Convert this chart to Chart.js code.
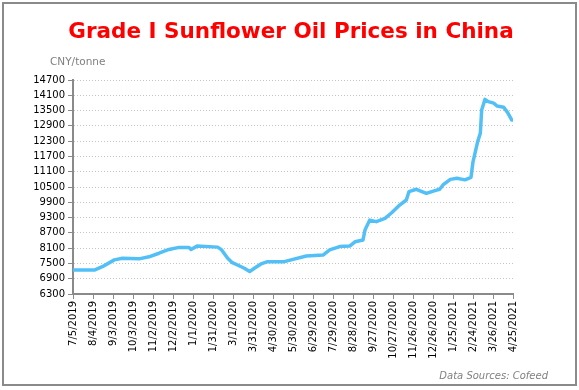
<!DOCTYPE html>
<html>
<head>
<meta charset="utf-8">
<script src="https://cdn.jsdelivr.net/npm/chart.js@4/dist/chart.umd.min.js"></script>
<style>
  html, body { margin: 0; padding: 0; background: #fff; }
  #wrap { position: relative; width: 579px; height: 390px; }
</style>
</head>
<body>
<div id="wrap"><canvas id="oilChart" width="579" height="390"></canvas></div>
<script>
// Grade I sunflower oil, CNY/tonne
const dates = [
  '2019-07-05', '2019-08-06', '2019-08-18', '2019-09-05', '2019-09-17', '2019-10-12',
  '2019-10-27', '2019-11-11', '2019-11-26', '2019-12-11', '2019-12-26', '2019-12-29',
  '2020-01-07', '2020-02-07', '2020-02-13', '2020-02-22', '2020-02-29', '2020-03-11',
  '2020-03-18', '2020-03-26', '2020-04-02', '2020-04-12', '2020-04-22', '2020-05-17',
  '2020-05-30', '2020-06-19', '2020-07-14', '2020-07-24', '2020-08-08', '2020-08-23',
  '2020-08-31', '2020-09-12', '2020-09-15', '2020-09-22', '2020-10-02', '2020-10-15',
  '2020-10-25', '2020-11-06', '2020-11-16', '2020-11-20', '2020-12-01', '2020-12-16',
  '2020-12-29', '2021-01-05', '2021-01-10', '2021-01-21', '2021-01-31', '2021-02-12',
  '2021-02-21', '2021-02-24', '2021-03-03', '2021-03-07', '2021-03-09', '2021-03-14',
  '2021-03-19', '2021-03-27', '2021-04-01', '2021-04-11', '2021-04-17', '2021-04-23',
  '2021-04-25'
];
const prices = [
  7240, 7240, 7370, 7640, 7700, 7680,
  7760, 7900, 8050, 8130, 8130, 8050,
  8180, 8140, 8030, 7700, 7530, 7400,
  7310, 7180, 7310, 7480, 7570, 7570,
  7660, 7790, 7830, 8030, 8160, 8180,
  8350, 8420, 8810, 9200, 9140, 9270,
  9490, 9790, 9990, 10320, 10410, 10250,
  10360, 10410, 10580, 10800, 10840, 10780,
  10880, 11490, 12280, 12610, 13520, 13940,
  13850, 13790, 13680, 13630, 13420, 13130,
  13130
];

// axis settings
const startDate = '2019-07-05';
const tickStepDays = 30;
const lastTickDay = 660;
const yMin = 6300;
const yMax = 14700;
const yStep = 600;

const DAY = 86400000;
const t0 = Date.parse(startDate);
const points = dates.map((d, i) => ({ x: (Date.parse(d) - t0) / DAY, y: prices[i] }));

function dayLabel(v) {
  const d = new Date(t0 + v * DAY);
  return (d.getUTCMonth() + 1) + '/' + d.getUTCDate() + '/' + d.getUTCFullYear();
}

const tickFont = { family: "'DejaVu Sans', Verdana, sans-serif", size: 10 };

// white background, frame and the loose texts
const decor = {
  id: 'decor',
  beforeDraw(chart) {
    const ctx = chart.ctx;
    ctx.save();
    ctx.fillStyle = '#fff';
    ctx.fillRect(0, 0, chart.width, chart.height);
    ctx.restore();
  },
  afterDraw(chart) {
    const ctx = chart.ctx;
    ctx.save();
    ctx.strokeStyle = '#8a8a8a';
    ctx.lineWidth = 2;
    ctx.strokeRect(3, 3, 573, 382);

    ctx.fillStyle = '#ff0000';
    ctx.font = "bold 21.5px 'DejaVu Sans', sans-serif";
    ctx.textAlign = 'center';
    ctx.textBaseline = 'alphabetic';
    ctx.fillText('Grade I Sunflower Oil Prices in China', 291, 38);

    ctx.fillStyle = '#808080';
    ctx.font = "10.5px 'DejaVu Sans', sans-serif";
    ctx.textAlign = 'left';
    ctx.textBaseline = 'middle';
    ctx.fillText('CNY/tonne', 50, 62);

    ctx.font = "italic 10px 'DejaVu Sans', sans-serif";
    ctx.textAlign = 'right';
    ctx.fillText('Data Sources: Cofeed', 548, 376);
    ctx.restore();
  }
};

new Chart(document.getElementById('oilChart').getContext('2d'), {
  type: 'line',
  data: {
    datasets: [{
      label: 'Grade I Sunflower Oil',
      data: points,
      borderColor: '#52c0f7',
      borderWidth: 3.5,
      borderJoinStyle: 'round',
      borderCapStyle: 'round',
      pointRadius: 0,
      tension: 0,
      fill: false
    }]
  },
  options: {
    responsive: false,
    animation: false,
    layout: { padding: { top: 80, left: 0, right: 66, bottom: 26 } },
    plugins: {
      legend: { display: false },
      title: { display: false },
      tooltip: { enabled: false }
    },
    scales: {
      x: {
        type: 'linear',
        min: 0,
        max: lastTickDay,
        afterFit: (scale) => { scale.height = 70; },
        ticks: {
          stepSize: tickStepDays,
          autoSkip: false,
          maxRotation: 90,
          minRotation: 90,
          padding: 2,
          color: '#000',
          font: tickFont,
          callback: (v) => dayLabel(v)
        },
        grid: {
          drawOnChartArea: false,
          drawTicks: true,
          tickLength: 5,
          tickColor: '#8a8a8a'
        },
        border: { color: '#8a8a8a', width: 2 }
      },
      y: {
        min: yMin,
        max: yMax,
        afterFit: (scale) => { scale.width = 73; },
        ticks: {
          stepSize: yStep,
          padding: 3,
          color: '#000',
          font: tickFont,
          callback: (v) => String(v)
        },
        grid: {
          color: '#c4c4c4',
          lineWidth: 1,
          tickLength: 5,
          tickColor: '#8a8a8a'
        },
        border: { color: '#8a8a8a', width: 2, dash: [1, 2] }
      }
    }
  },
  plugins: [decor]
});
</script>
</body>
</html>
